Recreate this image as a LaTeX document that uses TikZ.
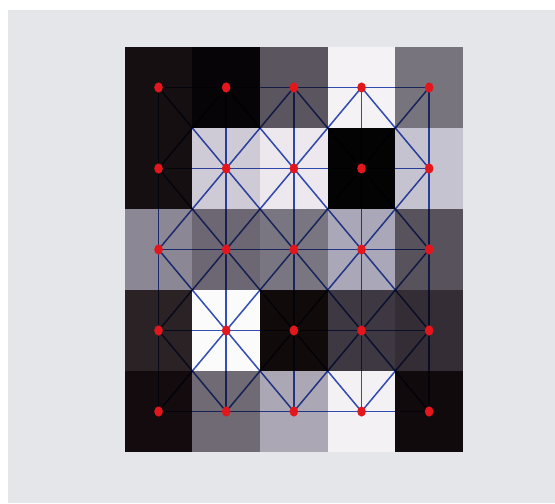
\documentclass[tikz,border=0pt]{standalone}
\usepackage{xcolor}
\usetikzlibrary{shapes.geometric}
\definecolor{paper}{HTML}{E4E6E9}
\definecolor{meshblue}{HTML}{3450B8}
\definecolor{dotred}{HTML}{E3161C}
\pgfdeclarelayer{sheet}
\pgfdeclarelayer{cells}
\pgfdeclarelayer{mesh}
\pgfsetlayers{sheet,cells,mesh,main}

\begin{document}
\begin{tikzpicture}[x=0.5pt,y=-0.5pt,
  dot/.style={ellipse,fill=dotred,inner sep=0pt,minimum width=4.3pt,minimum height=5.1pt},
  edge/.style={draw=meshblue,line width=0.75pt}]
  % page and scanned paper
  \begin{pgfonlayer}{sheet}
    \fill[white] (0,0) rectangle (555,503);
    \fill[paper] (8,10) rectangle (555,503);
  \end{pgfonlayer}
  \useasboundingbox (0,0) rectangle (555,503);
  \begin{scope}[shift={(124.7,47)},x=33.83pt,y=-40.5pt]
    % pixel values, row by row
    \begin{pgfonlayer}{cells}
      \foreach \row [count=\r] in {{150F12,060406,5B5560,F4F2F4,78747E},
                                   {150F12,CFCBD6,ECE8EE,040304,C6C3D0},
                                   {8B8795,6C6772,7A7681,AAA8B8,58525D},
                                   {2B2226,FBFBFC,100A0B,3E3842,352D36},
                                   {130B0E,6F6A74,ABA7B5,F3F1F4,110A0D}} {
        \foreach \v [count=\c] in \row {
          \definecolor{pixc}{HTML}{\v}
          \fill[pixc] (\c-1,\r-1) rectangle (\c,\r);
        }
      }
    \end{pgfonlayer}
    % one dot per pixel
    \foreach \c in {1,...,5}
      \foreach \r in {1,...,5}
        \node[dot] (d-\c-\r) at (\c-0.5,\r-0.5) {};
    % mesh: rows, columns and both diagonals
    \begin{pgfonlayer}{mesh}
      \begin{scope}[blend mode=multiply]
        \foreach \a/\b in {1/2,2/3,3/4,4/5} {
          \foreach \k in {1,...,5} {
            \draw[edge] (d-\a-\k.center) -- (d-\b-\k.center);
            \draw[edge] (d-\k-\a.center) -- (d-\k-\b.center);
          }
          \foreach \p/\q in {1/2,2/3,3/4,4/5} {
            \draw[edge] (d-\a-\p.center) -- (d-\b-\q.center);
            \draw[edge] (d-\b-\p.center) -- (d-\a-\q.center);
          }
        }
      \end{scope}
    \end{pgfonlayer}
  \end{scope}
\end{tikzpicture}
\end{document}
